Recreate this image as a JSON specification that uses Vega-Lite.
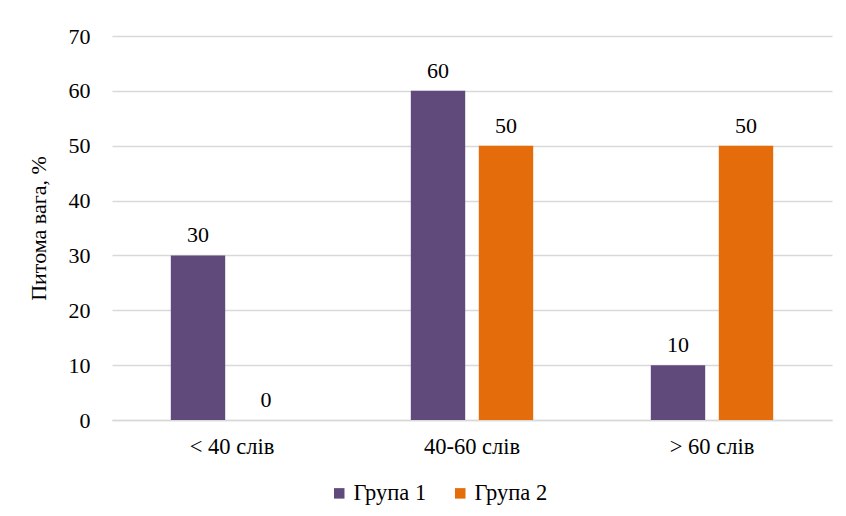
{
  "$schema": "https://vega.github.io/schema/vega-lite/v6.json",
  "autosize": "none",
  "width": 720,
  "height": 384,
  "padding": {"left": 112, "top": 36, "right": 14, "bottom": 96},
  "background": "white",
  "config": {
    "font": "'Liberation Serif', 'Times New Roman', 'DejaVu Serif', serif",
    "view": {"stroke": null},
    "text": {"font": "'Liberation Serif', 'Times New Roman', 'DejaVu Serif', serif"},
    "legend": {"labelFont": "'Liberation Serif', 'Times New Roman', 'DejaVu Serif', serif"},
    "axis": {
      "labelFont": "'Liberation Serif', 'Times New Roman', 'DejaVu Serif', serif",
      "titleFont": "'Liberation Serif', 'Times New Roman', 'DejaVu Serif', serif",
      "labelColor": "#000000",
      "titleColor": "#000000"
    }
  },
  "data": {
    "values": [
      {"category": "< 40 слів", "group": "Група 1", "value": 30},
      {"category": "< 40 слів", "group": "Група 2", "value": 0},
      {"category": "40-60 слів", "group": "Група 1", "value": 60},
      {"category": "40-60 слів", "group": "Група 2", "value": 50},
      {"category": "> 60 слів", "group": "Група 1", "value": 10},
      {"category": "> 60 слів", "group": "Група 2", "value": 50}
    ]
  },
  "encoding": {
    "x": {
      "field": "category",
      "type": "nominal",
      "sort": ["< 40 слів", "40-60 слів", "> 60 слів"],
      "scale": {"paddingInner": 0, "paddingOuter": 0},
      "axis": {
        "title": null,
        "labelAngle": 0,
        "labelFontSize": 22.5,
        "labelPadding": 15,
        "ticks": false,
        "domainColor": "#d9d9d9",
        "domainWidth": 1.5
      }
    },
    "xOffset": {
      "field": "group",
      "type": "nominal",
      "scale": {"paddingInner": 0.2, "paddingOuter": 0.865}
    },
    "y": {
      "field": "value",
      "type": "quantitative",
      "scale": {"domain": [0, 70]},
      "axis": {
        "title": "Питома вага, %",
        "titleFontSize": 22,
        "titleFontWeight": "normal",
        "titlePadding": 18,
        "values": [0, 10, 20, 30, 40, 50, 60, 70],
        "labelFontSize": 22,
        "labelPadding": 22,
        "ticks": false,
        "domain": false,
        "gridColor": "#d9d9d9",
        "gridWidth": 1.5
      }
    }
  },
  "layer": [
    {
      "mark": {"type": "bar"},
      "encoding": {
        "color": {
          "field": "group",
          "type": "nominal",
          "scale": {"domain": ["Група 1", "Група 2"], "range": ["#604A7B", "#E46C0A"]},
          "legend": {
            "title": null,
            "orient": "none",
            "direction": "horizontal",
            "legendX": 216,
            "legendY": 446,
            "symbolType": "square",
            "symbolSize": 110,
            "symbolStrokeWidth": 0,
            "labelFontSize": 22.5,
            "labelColor": "#000000",
            "columnPadding": 22,
            "labelOffset": 3
          }
        }
      }
    },
    {
      "mark": {"type": "text", "fontSize": 22, "baseline": "alphabetic", "dy": -13, "color": "#000000"},
      "encoding": {
        "text": {"field": "value", "type": "quantitative"}
      }
    }
  ]
}
